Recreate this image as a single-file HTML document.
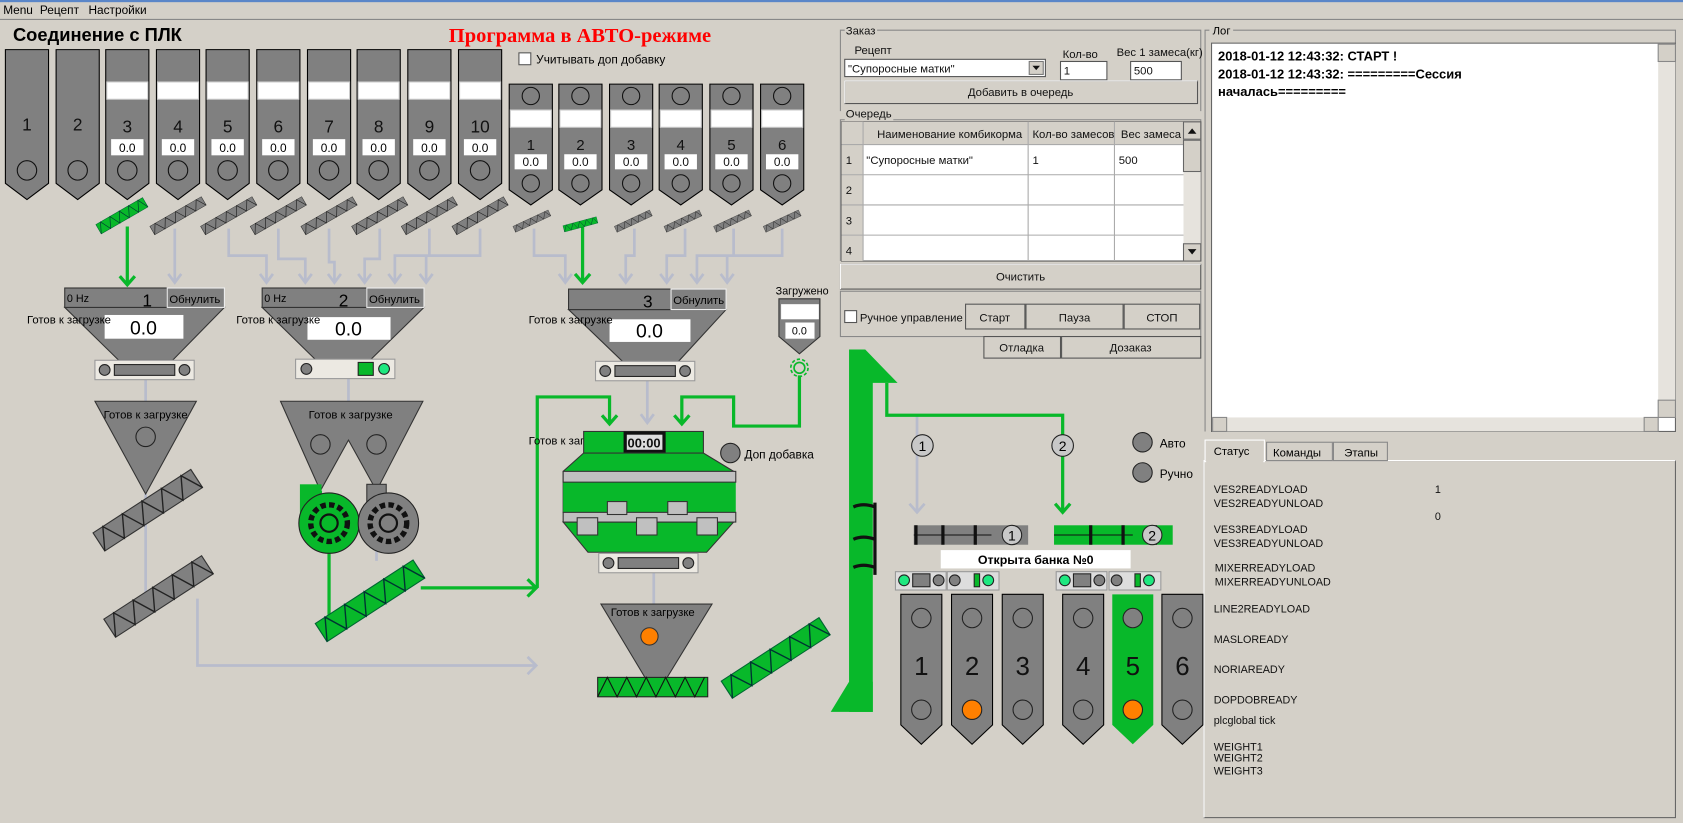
<!DOCTYPE html>
<html><head><meta charset="utf-8"><style>
html,body{margin:0;padding:0;background:#d4d0c8;overflow:hidden}
svg{display:block}
text{font-family:"Liberation Sans","DejaVu Sans",sans-serif;}
</style></head><body>
<svg width="1683" height="823" viewBox="0 0 1560 763" preserveAspectRatio="none" xmlns="http://www.w3.org/2000/svg">
<defs>
<path id="silo" d="M0,0H40V124L20,139L0,124Z" fill="#808080" stroke="#000" stroke-width="1"/>
<path id="silo2" d="M0,0H40V98L20,112L0,98Z" fill="#808080" stroke="#000" stroke-width="1"/>
<path id="bin" d="M0,0H38V121L19,139L0,121Z" fill="#808080" stroke="#000" stroke-width="1"/>
<g id="scrG"><rect x="-50" y="-10" width="100" height="20" fill="#808080" stroke="#333"/><path d="M-50,10L-40,-10L-30,10L-20,-10L-10,10L0,-10L10,10L20,-10L30,10L40,-10L50,10" fill="none" stroke="#222" stroke-width="1.2"/></g>
<g id="scrV"><rect x="-50" y="-10" width="100" height="20" fill="#08b82a" stroke="#063"/><path d="M-50,10L-40,-10L-30,10L-20,-10L-10,10L0,-10L10,10L20,-10L30,10L40,-10L50,10" fill="none" stroke="#033" stroke-width="1.2"/></g>
<g id="bar"><rect x="0" y="0" width="92" height="18" fill="#ece9e2" stroke="#999"/><circle cx="9" cy="9" r="5" fill="#808080" stroke="#222"/><rect x="18" y="4" width="56" height="10" fill="#808080" stroke="#222"/><circle cx="83" cy="9" r="5" fill="#808080" stroke="#222"/></g>
</defs>
<rect width="1560" height="763" fill="#d4d0c8"/>
<rect width="1560" height="2" fill="#5a86c8"/>
<line x1="0" y1="18" x2="1560" y2="18" stroke="#888"/>
<text x="3" y="13" font-size="11">Menu</text><text x="37" y="13" font-size="11">Рецепт</text><text x="82" y="13" font-size="11">Настройки</text>
<text x="12" y="38" font-size="17" font-weight="bold">Соединение с ПЛК</text>
<text x="416" y="39" font-size="19" font-weight="bold" fill="#ff0000" style="font-family:'Liberation Serif',serif">Программа в АВТО-режиме</text>
<rect x="481" y="49" width="11" height="11" fill="#fff" stroke="#555"/><text x="497" y="59" font-size="11">Учитывать доп добавку</text>

<g stroke="#b8bccc" stroke-width="2.5" fill="none">
<path d="M162,212V262M156,254L162,262L168,254"/>
<path d="M212,212V237H247V262M258,212V240H283V262M305,212V243H310V262M352,212V240H338V262M398,212V237H366V262M445,212V237H395V262"/>
<path d="M241,254L247,262L253,254M277,254L283,262L289,254M304,254L310,262L316,254M332,254L338,262L344,254M360,254L366,262L372,254M389,254L395,262L401,254"/>
<path d="M495,212V237H524V262M588,212V237H580V262M635,212V237H618V262M680,212V237H646V262M725,212V237H674V262"/>
<path d="M518,254L524,262L530,254M574,254L580,262L586,254M612,254L618,262L624,254M640,254L646,262L652,254M668,254L674,262L680,254"/>
<path d="M135,352V372M135,458V560M323,351V372M349,455V520M183,555V617H497M489,609L497,617L489,625"/>
<path d="M600,353V392M594,384L600,392L606,384M606,531V560M608,645V628"/>
<path d="M850,385V475M843,467L850,475L857,467"/>
</g>
<g stroke="#08b82a" stroke-width="3" fill="none">
<path d="M118,210V264M111,256L118,264L125,256"/>
<path d="M540,210V262M533,254L540,262L547,254"/>
<path d="M297,455V470M305,510V570M390,545H497M489,537L497,545L489,553M498,545V368H565V393M558,385L565,393L572,385"/>
<path d="M741,348V395H680V368H632V393M625,385L632,393L639,385"/>
<path d="M822,355V385H985V475M978,467L985,475L992,467"/>
</g>

<g font-size="16" text-anchor="middle" fill="#111">
<use href="#silo" x="5" y="46"/><text x="25" y="121">1</text><circle cx="25" cy="158" r="9" fill="none" stroke="#111"/>
<use href="#silo" x="52" y="46"/><text x="72" y="121">2</text><circle cx="72" cy="158" r="9" fill="none" stroke="#111"/>
</g>
<g>
<use href="#silo" x="98" y="46"/><rect x="99" y="76" width="38" height="16" fill="#fff" stroke="#ccc"/><text x="118" y="123" font-size="16" text-anchor="middle" fill="#111">3</text><rect x="103" y="129" width="30" height="15" fill="#fff"/><text x="118" y="141" font-size="11" text-anchor="middle">0.0</text><circle cx="118" cy="158" r="9" fill="none" stroke="#111"/>
</g>
<g transform="translate(47,0)"><use href="#silo" x="98" y="46"/><rect x="99" y="76" width="38" height="16" fill="#fff" stroke="#ccc"/><text x="118" y="123" font-size="16" text-anchor="middle" fill="#111">4</text><rect x="103" y="129" width="30" height="15" fill="#fff"/><text x="118" y="141" font-size="11" text-anchor="middle">0.0</text><circle cx="118" cy="158" r="9" fill="none" stroke="#111"/></g>
<g transform="translate(93,0)"><use href="#silo" x="98" y="46"/><rect x="99" y="76" width="38" height="16" fill="#fff" stroke="#ccc"/><text x="118" y="123" font-size="16" text-anchor="middle" fill="#111">5</text><rect x="103" y="129" width="30" height="15" fill="#fff"/><text x="118" y="141" font-size="11" text-anchor="middle">0.0</text><circle cx="118" cy="158" r="9" fill="none" stroke="#111"/></g>
<g transform="translate(140,0)"><use href="#silo" x="98" y="46"/><rect x="99" y="76" width="38" height="16" fill="#fff" stroke="#ccc"/><text x="118" y="123" font-size="16" text-anchor="middle" fill="#111">6</text><rect x="103" y="129" width="30" height="15" fill="#fff"/><text x="118" y="141" font-size="11" text-anchor="middle">0.0</text><circle cx="118" cy="158" r="9" fill="none" stroke="#111"/></g>
<g transform="translate(187,0)"><use href="#silo" x="98" y="46"/><rect x="99" y="76" width="38" height="16" fill="#fff" stroke="#ccc"/><text x="118" y="123" font-size="16" text-anchor="middle" fill="#111">7</text><rect x="103" y="129" width="30" height="15" fill="#fff"/><text x="118" y="141" font-size="11" text-anchor="middle">0.0</text><circle cx="118" cy="158" r="9" fill="none" stroke="#111"/></g>
<g transform="translate(233,0)"><use href="#silo" x="98" y="46"/><rect x="99" y="76" width="38" height="16" fill="#fff" stroke="#ccc"/><text x="118" y="123" font-size="16" text-anchor="middle" fill="#111">8</text><rect x="103" y="129" width="30" height="15" fill="#fff"/><text x="118" y="141" font-size="11" text-anchor="middle">0.0</text><circle cx="118" cy="158" r="9" fill="none" stroke="#111"/></g>
<g transform="translate(280,0)"><use href="#silo" x="98" y="46"/><rect x="99" y="76" width="38" height="16" fill="#fff" stroke="#ccc"/><text x="118" y="123" font-size="16" text-anchor="middle" fill="#111">9</text><rect x="103" y="129" width="30" height="15" fill="#fff"/><text x="118" y="141" font-size="11" text-anchor="middle">0.0</text><circle cx="118" cy="158" r="9" fill="none" stroke="#111"/></g>
<g transform="translate(327,0)"><use href="#silo" x="98" y="46"/><rect x="99" y="76" width="38" height="16" fill="#fff" stroke="#ccc"/><text x="118" y="123" font-size="16" text-anchor="middle" fill="#111">10</text><rect x="103" y="129" width="30" height="15" fill="#fff"/><text x="118" y="141" font-size="11" text-anchor="middle">0.0</text><circle cx="118" cy="158" r="9" fill="none" stroke="#111"/></g>

<g font-size="14" text-anchor="middle" fill="#111">
<g><use href="#silo2" x="472" y="78"/><circle cx="492" cy="89" r="8" fill="none" stroke="#111"/><rect x="473" y="102" width="38" height="16" fill="#fff" stroke="#ccc"/><text x="492" y="139">1</text><rect x="477" y="143" width="30" height="14" fill="#fff"/><text x="492" y="154" font-size="11">0.0</text><circle cx="492" cy="170" r="8" fill="none" stroke="#111"/></g>
<g><use href="#silo2" x="518" y="78"/><circle cx="538" cy="89" r="8" fill="none" stroke="#111"/><rect x="519" y="102" width="38" height="16" fill="#fff" stroke="#ccc"/><text x="538" y="139">2</text><rect x="523" y="143" width="30" height="14" fill="#fff"/><text x="538" y="154" font-size="11">0.0</text><circle cx="538" cy="170" r="8" fill="none" stroke="#111"/></g>
<g><use href="#silo2" x="565" y="78"/><circle cx="585" cy="89" r="8" fill="none" stroke="#111"/><rect x="566" y="102" width="38" height="16" fill="#fff" stroke="#ccc"/><text x="585" y="139">3</text><rect x="570" y="143" width="30" height="14" fill="#fff"/><text x="585" y="154" font-size="11">0.0</text><circle cx="585" cy="170" r="8" fill="none" stroke="#111"/></g>
<g><use href="#silo2" x="611" y="78"/><circle cx="631" cy="89" r="8" fill="none" stroke="#111"/><rect x="612" y="102" width="38" height="16" fill="#fff" stroke="#ccc"/><text x="631" y="139">4</text><rect x="616" y="143" width="30" height="14" fill="#fff"/><text x="631" y="154" font-size="11">0.0</text><circle cx="631" cy="170" r="8" fill="none" stroke="#111"/></g>
<g><use href="#silo2" x="658" y="78"/><circle cx="678" cy="89" r="8" fill="none" stroke="#111"/><rect x="659" y="102" width="38" height="16" fill="#fff" stroke="#ccc"/><text x="678" y="139">5</text><rect x="663" y="143" width="30" height="14" fill="#fff"/><text x="678" y="154" font-size="11">0.0</text><circle cx="678" cy="170" r="8" fill="none" stroke="#111"/></g>
<g><use href="#silo2" x="705" y="78"/><circle cx="725" cy="89" r="8" fill="none" stroke="#111"/><rect x="706" y="102" width="38" height="16" fill="#fff" stroke="#ccc"/><text x="725" y="139">6</text><rect x="710" y="143" width="30" height="14" fill="#fff"/><text x="725" y="154" font-size="11">0.0</text><circle cx="725" cy="170" r="8" fill="none" stroke="#111"/></g>
</g>

<use href="#scrV" transform="translate(113,200) rotate(-30) scale(0.5)"/>
<use href="#scrG" transform="translate(165,200) rotate(-30) scale(0.55,0.45)"/>
<use href="#scrG" transform="translate(212,200) rotate(-30) scale(0.55,0.45)"/>
<use href="#scrG" transform="translate(258,200) rotate(-30) scale(0.55,0.45)"/>
<use href="#scrG" transform="translate(305,200) rotate(-30) scale(0.55,0.45)"/>
<use href="#scrG" transform="translate(352,200) rotate(-30) scale(0.55,0.45)"/>
<use href="#scrG" transform="translate(398,200) rotate(-30) scale(0.55,0.45)"/>
<use href="#scrG" transform="translate(445,200) rotate(-30) scale(0.55,0.45)"/>
<use href="#scrG" transform="translate(493,205) rotate(-25) scale(0.36,0.3)"/>
<use href="#scrV" transform="translate(538,208) rotate(-15) scale(0.32,0.3)"/>
<use href="#scrG" transform="translate(587,205) rotate(-25) scale(0.36,0.3)"/>
<use href="#scrG" transform="translate(633,205) rotate(-25) scale(0.36,0.3)"/>
<use href="#scrG" transform="translate(679,205) rotate(-25) scale(0.36,0.3)"/>
<use href="#scrG" transform="translate(725,205) rotate(-25) scale(0.36,0.3)"/>

<path d="M60,285H208L160,334H110Z" fill="#808080" stroke="#333"/>
<rect x="60" y="267" width="95" height="18" fill="#808080" stroke="#333"/>
<rect x="155" y="267" width="53" height="18" fill="#808080" stroke="#eee"/>
<text x="62" y="280" font-size="10">0 Hz</text><text x="132" y="284" font-size="16">1</text><text x="157" y="281" font-size="10.5">Обнулить</text>
<rect x="97" y="292" width="73" height="22" fill="#fff"/><text x="133" y="310" font-size="18" text-anchor="middle">0.0</text>
<text x="25" y="300" font-size="10.5">Готов к загрузке</text>
<use href="#bar" x="88" y="334"/>
<path d="M243,285H393L343,334H293Z" fill="#808080" stroke="#333"/>
<rect x="243" y="267" width="97" height="18" fill="#808080" stroke="#333"/>
<rect x="340" y="267" width="53" height="18" fill="#808080" stroke="#eee"/>
<text x="245" y="280" font-size="10">0 Hz</text><text x="314" y="284" font-size="16">2</text><text x="342" y="281" font-size="10.5">Обнулить</text>
<rect x="285" y="294" width="77" height="21" fill="#fff"/><text x="323" y="311" font-size="18" text-anchor="middle">0.0</text>
<text x="219" y="300" font-size="10.5">Готов к загрузке</text>
<rect x="274" y="333" width="92" height="18" fill="#ece9e2" stroke="#999"/><circle cx="284" cy="342" r="5" fill="#808080" stroke="#222"/><rect x="332" y="336" width="14" height="12" fill="#08b82a" stroke="#222"/><circle cx="356" cy="342" r="5" fill="#1ee880" stroke="#222"/>
<path d="M527,287H673L628,336H578Z" fill="#808080" stroke="#333"/>
<rect x="527" y="268" width="95" height="19" fill="#808080" stroke="#333"/>
<rect x="622" y="268" width="51" height="19" fill="#808080" stroke="#eee"/>
<text x="596" y="285" font-size="16">3</text><text x="624" y="282" font-size="10.5">Обнулить</text>
<rect x="565" y="296" width="75" height="21" fill="#fff"/><text x="602" y="313" font-size="18" text-anchor="middle">0.0</text>
<text x="490" y="300" font-size="10.5">Готов к загрузке</text>
<use href="#bar" x="552" y="335"/>
<text x="719" y="273" font-size="10">Загружено</text>
<path d="M722,277H760V312L741,328L722,312Z" fill="#808080" stroke="#333"/>
<rect x="724" y="282" width="35" height="14" fill="#fff"/><rect x="728" y="299" width="27" height="15" fill="#fff"/><text x="741" y="310" font-size="10" text-anchor="middle">0.0</text>
<g fill="none" stroke="#08b82a" stroke-width="1.5"><circle cx="741" cy="341" r="5"/><circle cx="741" cy="341" r="8" stroke-dasharray="3 2"/></g>

<path d="M88,372H182L135,458Z" fill="#808080" stroke="#333"/>
<text x="135" y="388" font-size="10.5" text-anchor="middle">Готов к загрузке</text><circle cx="135" cy="405" r="9" fill="none" stroke="#222"/>
<use href="#scrG" transform="translate(137,473) rotate(-33) scale(1.08,1)"/>
<use href="#scrG" transform="translate(147,553) rotate(-33) scale(1.08,1)"/>
<path d="M260,372H392L349,455L323,408L297,455Z" fill="#808080" stroke="#333"/>
<text x="325" y="388" font-size="10.5" text-anchor="middle">Готов к загрузке</text>
<circle cx="297" cy="412" r="9" fill="none" stroke="#222"/><circle cx="349" cy="412" r="9" fill="none" stroke="#222"/>
<rect x="278" y="449" width="20" height="30" fill="#08b82a"/>
<rect x="340" y="449" width="18" height="30" fill="#808080" stroke="#333"/>
<circle cx="305" cy="485" r="28" fill="#08b82a" stroke="#222"/>
<circle cx="360" cy="485" r="28" fill="#808080" stroke="#222"/>
<g fill="none" stroke="#111" stroke-width="2"><circle cx="305" cy="485" r="17" stroke-dasharray="5 3" stroke-width="5"/><circle cx="305" cy="485" r="8"/><circle cx="360" cy="485" r="17" stroke-dasharray="5 3" stroke-width="5"/><circle cx="360" cy="485" r="8"/></g>
<use href="#scrV" transform="translate(343,557) rotate(-33) scale(1.08,1)"/>

<text x="490" y="412" font-size="10.5">Готов к загрузке</text>
<rect x="541" y="400" width="111" height="20" fill="#08b82a" stroke="#333"/>
<rect x="578" y="400" width="39" height="20" fill="#111"/><rect x="581" y="403" width="33" height="14" fill="#ddd"/><text x="597" y="415" font-size="12" text-anchor="middle" font-weight="bold" fill="#111">00:00</text>
<path d="M541,420H652L680,437V475H522V437Z" fill="#08b82a" stroke="#333"/>
<path d="M522,484H680L655,512H545Z" fill="#08b82a" stroke="#333"/>
<rect x="522" y="447" width="160" height="28" fill="#08b82a"/>
<rect x="522" y="437" width="160" height="10" fill="#c0c0c0" stroke="#333"/>
<rect x="522" y="475" width="160" height="9" fill="#c0c0c0" stroke="#333"/>
<rect x="563" y="465" width="18" height="12" fill="#c0c0c0" stroke="#333"/><rect x="619" y="465" width="18" height="12" fill="#c0c0c0" stroke="#333"/>
<rect x="535" y="480" width="19" height="16" fill="#c0c0c0" stroke="#333"/><rect x="590" y="480" width="19" height="16" fill="#c0c0c0" stroke="#333"/><rect x="646" y="480" width="19" height="16" fill="#c0c0c0" stroke="#333"/>
<circle cx="677" cy="420" r="9" fill="#808080" stroke="#222"/><text x="690" y="425" font-size="11">Доп добавка</text>
<use href="#bar" x="555" y="513"/>
<path d="M557,560H660L608,645Z" fill="#808080" stroke="#333"/>
<text x="605" y="571" font-size="10.5" text-anchor="middle">Готов к загрузке</text>
<circle cx="602" cy="590" r="8" fill="#ff8000" stroke="#333"/>
<rect x="554" y="628" width="102" height="18" fill="#08b82a" stroke="#222"/>
<path d="M554,646L563,628L572,646L581,628L590,646L599,628L608,646L617,628L626,646L635,628L644,646L653,628" fill="none" stroke="#111"/>
<use href="#scrV" transform="translate(719,610) rotate(-33) scale(1.08,0.95)"/>

<path d="M787,324H802L832,355H809V660H787Z" fill="#08b82a"/>
<path d="M787,632H809V660H770Z" fill="#08b82a"/>
<g stroke="#111" stroke-width="3" fill="none"><path d="M811,466V533"/><path d="M791,470Q800,466 811,470M791,500Q800,496 811,500M791,526Q800,522 811,526"/></g>
<g font-size="13" text-anchor="middle">
<circle cx="855" cy="413" r="10" fill="#c8c8c8" stroke="#222"/><text x="855" y="418">1</text>
<circle cx="985" cy="413" r="10" fill="#c8c8c8" stroke="#222"/><text x="985" y="418">2</text>
</g>
<circle cx="1059" cy="410" r="9" fill="#808080" stroke="#222"/><text x="1075" y="415" font-size="11">Авто</text>
<circle cx="1059" cy="438" r="9" fill="#808080" stroke="#222"/><text x="1075" y="443" font-size="11">Ручно</text>
<rect x="847" y="487" width="106" height="18" fill="#808080"/>
<path d="M847,496H919" stroke="#111"/><g stroke="#111" stroke-width="3"><path d="M849,487V505M874,487V505M904,487V505"/></g>
<circle cx="938" cy="496" r="9" fill="#c8c8c8" stroke="#222"/><text x="938" y="501" font-size="13" text-anchor="middle">1</text>
<rect x="977" y="487" width="110" height="18" fill="#08b82a"/>
<path d="M977,496H1050" stroke="#111"/><g stroke="#111" stroke-width="3"><path d="M1011,487V505M1041,487V505M1071,487V505"/></g>
<circle cx="1068" cy="496" r="9" fill="#c8c8c8" stroke="#222"/><text x="1068" y="501" font-size="13" text-anchor="middle">2</text>
<rect x="872" y="510" width="176" height="17" fill="#fff"/><text x="960" y="523" font-size="11.5" font-weight="bold" text-anchor="middle">Открыта банка №0</text>
<g>
<rect x="830" y="530" width="47" height="17" fill="#ddd" stroke="#999"/><circle cx="838" cy="538" r="5" fill="#1ee880" stroke="#222"/><rect x="846" y="532" width="16" height="12" fill="#808080" stroke="#222"/><circle cx="870" cy="538" r="5" fill="#808080" stroke="#222"/>
<rect x="878" y="530" width="48" height="17" fill="#ddd" stroke="#999"/><circle cx="885" cy="538" r="5" fill="#808080" stroke="#222"/><rect x="903" y="532" width="5" height="12" fill="#08b82a" stroke="#222"/><circle cx="916" cy="538" r="5" fill="#1ee880" stroke="#222"/>
<rect x="979" y="530" width="47" height="17" fill="#ddd" stroke="#999"/><circle cx="987" cy="538" r="5" fill="#1ee880" stroke="#222"/><rect x="995" y="532" width="16" height="12" fill="#808080" stroke="#222"/><circle cx="1019" cy="538" r="5" fill="#808080" stroke="#222"/>
<rect x="1028" y="530" width="48" height="17" fill="#ddd" stroke="#999"/><circle cx="1035" cy="538" r="5" fill="#808080" stroke="#222"/><rect x="1052" y="532" width="5" height="12" fill="#08b82a" stroke="#222"/><circle cx="1065" cy="538" r="5" fill="#1ee880" stroke="#222"/>
</g>
<g font-size="24" text-anchor="middle" fill="#111">
<use href="#bin" x="835" y="551"/><circle cx="854" cy="573" r="9" fill="none" stroke="#222"/><circle cx="854" cy="658" r="9" fill="none" stroke="#222"/><text x="854" y="626">1</text>
<use href="#bin" x="882" y="551"/><circle cx="901" cy="573" r="9" fill="none" stroke="#222"/><circle cx="901" cy="658" r="9" fill="#ff8000" stroke="#222"/><text x="901" y="626">2</text>
<use href="#bin" x="929" y="551"/><circle cx="948" cy="573" r="9" fill="none" stroke="#222"/><circle cx="948" cy="658" r="9" fill="none" stroke="#222"/><text x="948" y="626">3</text>
<use href="#bin" x="985" y="551"/><circle cx="1004" cy="573" r="9" fill="none" stroke="#222"/><circle cx="1004" cy="658" r="9" fill="none" stroke="#222"/><text x="1004" y="626">4</text>
<path d="M1031,551H1069V672L1050,690L1031,672Z" fill="#08b82a"/><circle cx="1050" cy="573" r="9" fill="#808080" stroke="#222"/><circle cx="1050" cy="658" r="9" fill="#ff8000" stroke="#222"/><text x="1050" y="626">5</text>
<use href="#bin" x="1077" y="551"/><circle cx="1096" cy="573" r="9" fill="none" stroke="#222"/><circle cx="1096" cy="658" r="9" fill="none" stroke="#222"/><text x="1096" y="626">6</text>
</g>

<g font-size="10.5" fill="#111">
<path d="M779,103V28H1113V103" fill="none" stroke="#888"/><rect x="783" y="22" width="30" height="12" fill="#d4d0c8"/><text x="784" y="32">Заказ</text>
<text x="792" y="50">Рецепт</text>
<rect x="783" y="55" width="186" height="16" fill="#fff" stroke="#555"/><text x="786" y="67">"Супоросные матки"</text>
<rect x="954" y="57" width="13" height="12" fill="#d4d0c8" stroke="#777"/><path d="M957,61H964L960.5,65Z" fill="#111"/>
<text x="985" y="54">Кол-во</text><rect x="983" y="57" width="43" height="17" fill="#fff" stroke="#555"/><text x="986" y="69">1</text>
<text x="1035" y="52">Вес 1 замеса(кг)</text><rect x="1048" y="57" width="47" height="17" fill="#fff" stroke="#555"/><text x="1051" y="69">500</text>
<rect x="783" y="75" width="327" height="21" fill="#d4d0c8" stroke="#555"/><path d="M783,96V75H1110" stroke="#fff" fill="none"/><text x="946" y="89" text-anchor="middle">Добавить в очередь</text>
<path d="M779,242V111H1113V242" fill="none" stroke="#888"/><rect x="783" y="100" width="45" height="12" fill="#d4d0c8"/><text x="784" y="109">Очередь</text>
<rect x="780" y="113" width="333" height="129" fill="#fff" stroke="#555"/>
<rect x="780" y="113" width="317" height="21" fill="#d4d0c8"/><rect x="780" y="113" width="20" height="129" fill="#d4d0c8"/>
<g stroke="#aaa"><path d="M800,113V242M953,113V242M1033,113V242M780,134H1097M780,162H1097M780,190H1097M780,218H1097"/></g>
<text x="813" y="128">Наименование комбикорма</text><text x="957" y="128">Кол-во замесов</text><text x="1039" y="128">Вес замеса</text>
<text x="784" y="152">1</text><text x="784" y="180">2</text><text x="784" y="208">3</text><text x="784" y="236">4</text>
<text x="803" y="152">"Супоросные матки"</text><text x="957" y="152">1</text><text x="1037" y="152">500</text>
<rect x="1097" y="113" width="16" height="129" fill="#e6e3dd"/><rect x="1097" y="113" width="16" height="16" fill="#d4d0c8" stroke="#666"/><rect x="1097" y="130" width="16" height="29" fill="#d4d0c8" stroke="#666"/><rect x="1097" y="226" width="16" height="16" fill="#d4d0c8" stroke="#666"/>
<path d="M1101,124H1109L1105,119Z M1101,231H1109L1105,236Z" fill="#111"/>
<rect x="779" y="245" width="334" height="23" fill="#d4d0c8" stroke="#555"/><path d="M779,268V245H1113" stroke="#fff" fill="none"/><text x="946" y="260" text-anchor="middle">Очистить</text>
<rect x="779" y="270" width="334" height="42" fill="none" stroke="#888"/>
<rect x="783" y="288" width="11" height="11" fill="#fff" stroke="#555"/><text x="797" y="298">Ручное управление</text>
<g fill="#d4d0c8" stroke="#555"><rect x="895" y="282" width="55" height="23"/><rect x="951" y="282" width="90" height="23"/><rect x="1042" y="282" width="70" height="23"/><rect x="912" y="312" width="71" height="20"/><rect x="984" y="312" width="129" height="20"/></g>
<text x="922" y="298" text-anchor="middle">Старт</text><text x="996" y="298" text-anchor="middle">Пауза</text><text x="1077" y="298" text-anchor="middle">СТОП</text>
<text x="947" y="326" text-anchor="middle">Отладка</text><text x="1048" y="326" text-anchor="middle">Дозаказ</text>
</g>

<path d="M1117,400V28H1553V400" fill="none" stroke="#888"/><rect x="1121" y="22" width="22" height="12" fill="#d4d0c8"/><text x="1124" y="32" font-size="10.5">Лог</text>
<rect x="1123" y="40" width="430" height="360" fill="#fff" stroke="#666"/>
<rect x="1537" y="41" width="16" height="346" fill="#e6e3dd"/><rect x="1537" y="41" width="16" height="16" fill="#d4d0c8" stroke="#888"/><rect x="1537" y="371" width="16" height="16" fill="#d4d0c8" stroke="#888"/>
<rect x="1124" y="387" width="413" height="13" fill="#e6e3dd"/><rect x="1124" y="387" width="13" height="13" fill="#d4d0c8" stroke="#888"/><rect x="1524" y="387" width="13" height="13" fill="#d4d0c8" stroke="#888"/>
<g font-size="12" font-weight="bold"><text x="1129" y="56">2018-01-12 12:43:32: СТАРТ !</text><text x="1129" y="73">2018-01-12 12:43:32: =========Сессия</text><text x="1129" y="89">началась=========</text></g>

<rect x="1116" y="427" width="437" height="331" fill="#d4d0c8" stroke="#666"/><path d="M1116,758V427H1553" stroke="#fff" fill="none"/>
<rect x="1117" y="408" width="55" height="20" fill="#d4d0c8" stroke="#fff"/><rect x="1174" y="410" width="61" height="17" fill="#d4d0c8" stroke="#888"/><rect x="1236" y="410" width="50" height="17" fill="#d4d0c8" stroke="#888"/>
<rect x="1118" y="424" width="53" height="6" fill="#d4d0c8"/>
<g font-size="10.5"><text x="1125" y="422">Статус</text><text x="1180" y="423">Команды</text><text x="1246" y="423">Этапы</text></g>
<g font-size="10" fill="#111">
<text x="1125" y="457">VES2READYLOAD</text><text x="1125" y="470">VES2READYUNLOAD</text>
<text x="1125" y="494">VES3READYLOAD</text><text x="1125" y="507">VES3READYUNLOAD</text>
<text x="1126" y="530">MIXERREADYLOAD</text><text x="1126" y="543">MIXERREADYUNLOAD</text>
<text x="1125" y="568">LINE2READYLOAD</text><text x="1125" y="596">MASLOREADY</text><text x="1125" y="624">NORIAREADY</text>
<text x="1125" y="652">DOPDOBREADY</text><text x="1125" y="671">plcglobal tick</text>
<text x="1125" y="696">WEIGHT1</text><text x="1125" y="706">WEIGHT2</text><text x="1125" y="718">WEIGHT3</text>
<text x="1330" y="457">1</text><text x="1330" y="482">0</text>
</g>
</svg>
</body></html>
